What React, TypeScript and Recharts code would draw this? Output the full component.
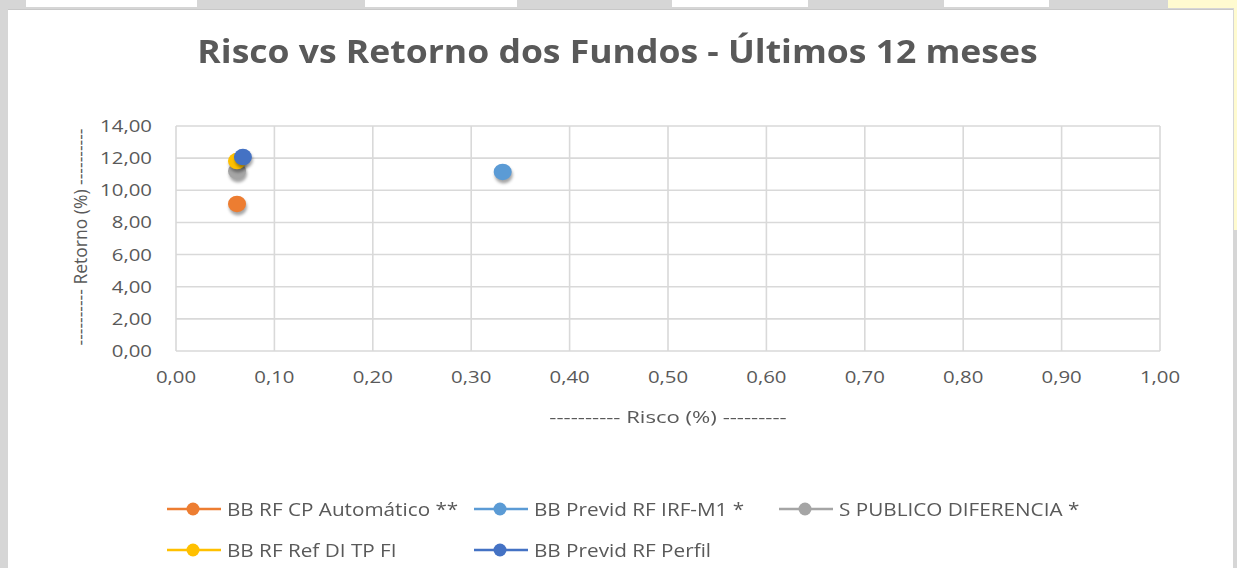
import React from "react";
import { ScatterChart, Scatter, XAxis, YAxis, CartesianGrid } from "recharts";

const seriesNames = [
  "BB RF CP Automático **",
  "BB Previd RF IRF-M1 *",
  "S PUBLICO DIFERENCIA *",
  "BB RF Ref DI TP FI",
  "BB Previd RF Perfil",
];
const seriesColors = ["#ED7D31", "#5B9BD5", "#A5A5A5", "#FFC000", "#4472C4"];
const riscoValues = [0.062, 0.332, 0.062, 0.062, 0.068];
const retornoValues = [9.15, 11.14, 11.2, 11.82, 12.07];
const xTicks = [0, 0.1, 0.2, 0.3, 0.4, 0.5, 0.6, 0.7, 0.8, 0.9, 1.0];
const yTicks = [0, 2, 4, 6, 8, 10, 12, 14];

const title = "Risco vs Retorno dos Fundos - Últimos 12 meses";
const xLabel = "---------- Risco (%) ---------";
const yLabel = "---------- Retorno (%) ----------";

const fmt = (v: number) => v.toFixed(2).replace(".", ",");
const FONT = "'Open Sans', sans-serif";
const TEXT = "#595959";
const STRETCH = 1.2;

const XTick = (props: any) => {
  const { x, y, payload } = props;
  return (
    <g transform={`translate(${x},${y})`}>
      <text
        transform={`scale(${STRETCH},1)`}
        textAnchor="middle"
        dy="0.71em"
        fill={TEXT}
        fontSize={17}
        fontFamily={FONT}
      >
        {fmt(payload.value)}
      </text>
    </g>
  );
};

const YTick = (props: any) => {
  const { x, y, payload } = props;
  return (
    <g transform={`translate(${x},${y})`}>
      <text
        transform={`scale(${STRETCH},1)`}
        textAnchor="end"
        dy="0.355em"
        fill={TEXT}
        fontSize={17}
        fontFamily={FONT}
      >
        {fmt(payload.value)}
      </text>
    </g>
  );
};

const makeShape = (color: string) => (props: any) => {
  const { cx, cy } = props;
  if (cx == null || cy == null) return null;
  return (
    <g>
      <defs>
        <filter id="ptShadow" x="-50%" y="-50%" width="200%" height="200%">
          <feGaussianBlur stdDeviation="1.8" />
        </filter>
      </defs>
      <ellipse cx={cx + 1} cy={cy + 3} rx={9} ry={8.5} fill="rgba(0,0,0,0.35)" filter="url(#ptShadow)" />
      <ellipse cx={cx} cy={cy} rx={9} ry={8.3} fill={color} />
    </g>
  );
};

const topTabs: [number, number][] = [
  [26, 197],
  [365, 517],
  [672, 808],
  [944, 1049],
];

export default function App() {
  const legendCols = [167, 474, 779];
  const legendRows = [508, 549];
  return (
    <div
      style={{
        position: "absolute",
        left: 0,
        top: 0,
        width: 1237,
        height: 568,
        background: "#d6d6d6",
        overflow: "hidden",
        fontFamily: FONT,
      }}
    >
      {topTabs.map(([a, b]) => (
        <div
          key={a}
          style={{ position: "absolute", left: a, top: 0, width: b - a, height: 7, background: "#ffffff" }}
        />
      ))}
      <div style={{ position: "absolute", left: 1168, top: 0, width: 69, height: 8, background: "#fffbd0" }} />
      <div style={{ position: "absolute", left: 1234, top: 0, width: 3, height: 230, background: "#fffbd0" }} />
      <div
        style={{
          position: "absolute",
          left: 8,
          top: 9,
          width: 1225,
          height: 559,
          background: "#ffffff",
          borderTop: "1px solid #c8c8c8",
          boxSizing: "border-box",
        }}
      >
        <div
          style={{
            position: "absolute",
            left: -3,
            width: 1225,
            top: 19,
            textAlign: "center",
            fontSize: 32,
            fontWeight: 700,
            color: TEXT,
            whiteSpace: "nowrap",
            transform: "scaleX(1.11)",
          }}
        >
          {title}
        </div>
        <div style={{ position: "absolute", left: 0, top: 0 }}>
          <ScatterChart
            width={1225}
            height={559}
            margin={{ top: 116, right: 73, left: 108, bottom: 178 }}
          >
            <CartesianGrid stroke="#d9d9d9" strokeWidth={1.6} />
            <XAxis
              type="number"
              dataKey="x"
              domain={[0, 1]}
              ticks={xTicks}
              tickFormatter={fmt}
              axisLine={false}
              tickLine={false}
              tickSize={6}
              tickMargin={14}
              height={40}
              tick={<XTick />}
              allowDataOverflow
            />
            <YAxis
              type="number"
              dataKey="y"
              domain={[0, 14]}
              ticks={yTicks}
              tickFormatter={fmt}
              axisLine={false}
              tickLine={false}
              tickSize={6}
              tickMargin={18}
              width={60}
              tick={<YTick />}
              allowDataOverflow
            />
            {seriesNames.map((name, i) => (
              <Scatter
                key={name}
                name={name}
                data={[{ x: riscoValues[i], y: retornoValues[i] }]}
                fill={seriesColors[i]}
                shape={makeShape(seriesColors[i])}
                isAnimationActive={false}
              />
            ))}
          </ScatterChart>
        </div>
        <div
          style={{
            position: "absolute",
            left: 660 - 200,
            width: 400,
            top: 395,
            textAlign: "center",
            fontSize: 17,
            color: TEXT,
            whiteSpace: "nowrap",
            transform: "scaleX(1.3)",
          }}
        >
          {xLabel}
        </div>
        <div
          style={{
            position: "absolute",
            left: 72 - 200,
            top: 227 - 13,
            width: 400,
            height: 26,
            lineHeight: "26px",
            textAlign: "center",
            fontSize: 17.5,
            color: TEXT,
            whiteSpace: "nowrap",
            transform: "rotate(-90deg)",
          }}
        >
          {yLabel}
        </div>
        {seriesNames.map((name, i) => {
          const col = i % 3;
          const row = Math.floor(i / 3);
          const left = legendCols[col] - 8;
          const cy = legendRows[row] - 9;
          return (
            <div
              key={name}
              style={{
                position: "absolute",
                left,
                top: cy - 14,
                height: 28,
                display: "flex",
                alignItems: "center",
                whiteSpace: "nowrap",
              }}
            >
              <svg width={56} height={28} style={{ display: "block" }}>
                <line x1={0} y1={14} x2={54} y2={14} stroke={seriesColors[i]} strokeWidth={2.5} />
                <circle cx={26} cy={14} r={6.5} fill={seriesColors[i]} />
              </svg>
              <span
                style={{
                  fontSize: 18,
                  color: TEXT,
                  marginLeft: 4,
                  display: "inline-block",
                  transform: "scaleX(1.15)",
                  transformOrigin: "left center",
                }}
              >
                {name}
              </span>
            </div>
          );
        })}
      </div>
    </div>
  );
}
